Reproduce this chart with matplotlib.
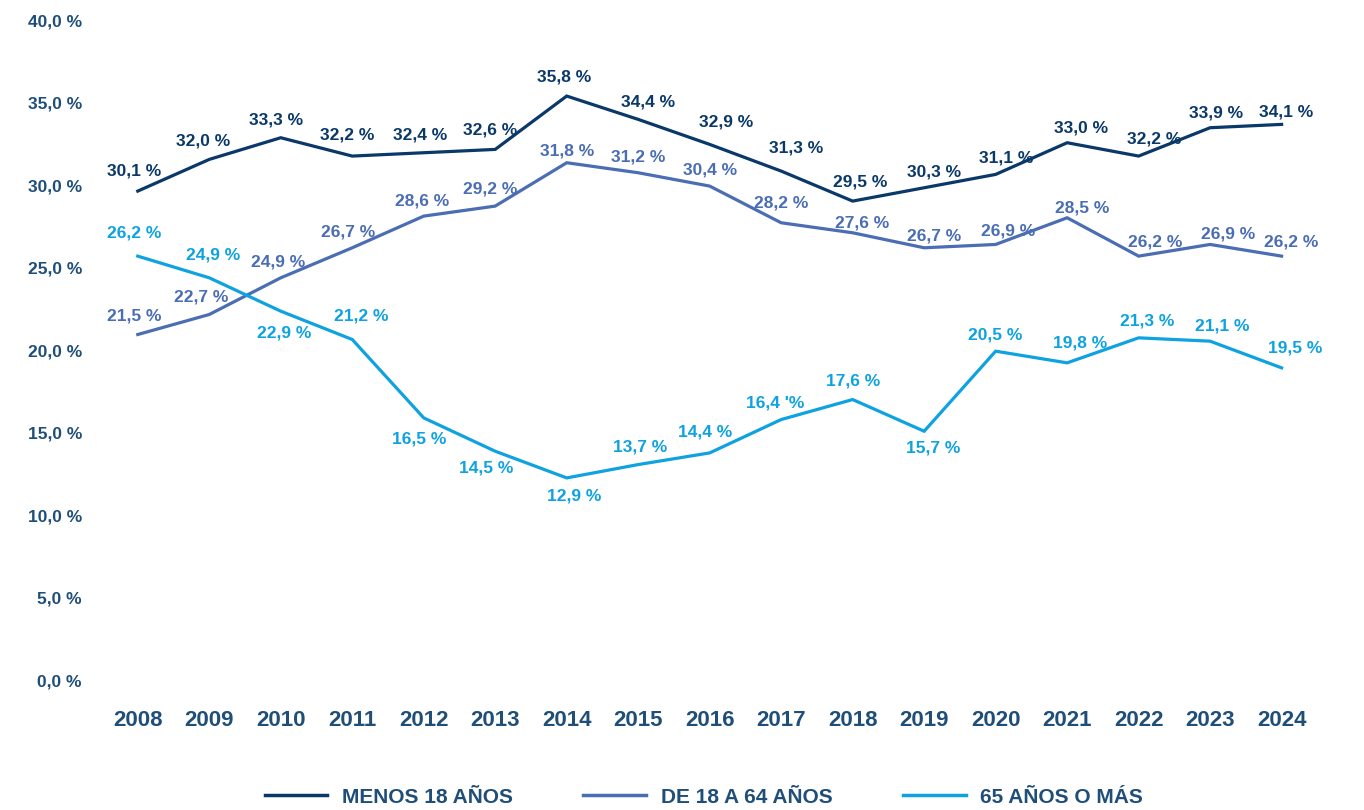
import numpy as np
import matplotlib.pyplot as plt

# =========================
# 1) Données (lues sur le graphique)
# =========================

annees = [2008, 2009, 2010, 2011, 2012, 2013, 2014, 2015, 2016,
          2017, 2018, 2019, 2020, 2021, 2022, 2023, 2024]

menos_18 = [30.1, 32.0, 33.3, 32.2, 32.4, 32.6, 35.8, 34.4, 32.9,
            31.3, 29.5, 30.3, 31.1, 33.0, 32.2, 33.9, 34.1]
de_18_a_64 = [21.5, 22.7, 24.9, 26.7, 28.6, 29.2, 31.8, 31.2, 30.4,
              28.2, 27.6, 26.7, 26.9, 28.5, 26.2, 26.9, 26.2]
mas_65 = [26.2, 24.9, 22.9, 21.2, 16.5, 14.5, 12.9, 13.7, 14.4,
          16.4, 17.6, 15.7, 20.5, 19.8, 21.3, 21.1, 19.5]

series_noms = ["MENOS 18 AÑOS", "DE 18 A 64 AÑOS", "65 AÑOS O MÁS"]
y_ticks = [0, 5, 10, 15, 20, 25, 30, 35, 40]

# =========================
# 2) Style
# =========================

plt.rcParams["font.family"] = ["Liberation Sans", "DejaVu Sans"]
plt.rcParams["font.weight"] = "bold"

couleurs = ["#0a3868", "#4a6db4", "#0ea2e0"]
couleur_texte = "#1f4e79"

# Décalage des étiquettes (pixels) : (dx, dy)
decal_menos = [(-4, 20), (-6, 18), (-5, 18), (-5, 21), (-4, 18), (-5, 19), (-3, 19), (10, 17), (16, 22),
               (15, 23), (8, 19), (10, 16), (11, 16), (14, 15), (16, 17), (6, 15), (5, 12)]
decal_18_64 = [(-4, 19), (-8, 17), (-3, 16), (-4, 16), (-2, 15), (-5, 17), (0, 12), (0, 16), (0, 16),
               (0, 20), (9, 10), (10, 12), (12, 13), (15, 10), (17, 14), (18, 10), (10, 14)]
decal_65 = [(-4, 23), (4, 23), (3, -22), (9, 24), (-5, -21), (-9, -17), (7, -18), (2, 18), (-5, 21),
            (-6, 17), (0, 19), (9, -17), (0, 16), (13, 20), (9, 17), (12, 15), (14, 20)]


def etiquette(v):
    return f"{v:.1f} %".replace(".", ",")


# =========================
# 3) Graphique
# =========================

fig = plt.figure(figsize=(13.64, 8.10), dpi=100)
ax = fig.add_axes([0.0748, 0.1444, 0.891, 0.8235])

toutes = [menos_18, de_18_a_64, mas_65]
decalages = [decal_menos, decal_18_64, decal_65]

for serie, nom, coul, dec in zip(toutes, series_noms, couleurs, decalages):
    ax.plot(annees, serie, color=coul, linewidth=2.3, label=nom, solid_joinstyle="miter")
    for x, v, (dx, dy) in zip(annees, serie, dec):
        txt = etiquette(v)
        if serie is mas_65 and x == 2017:
            txt = "16,4 '%"  # faute d'origine conservée
        ax.annotate(txt, (x, v), xytext=(dx, dy), textcoords="offset pixels",
                    ha="center", va="center", color=coul, fontsize=12.5, fontweight="bold")

ax.set_xlim(2007.5, 2024.5)
ax.set_ylim(0, 40)
ax.set_xticks(annees)
ax.set_xticklabels([str(a) for a in annees], fontsize=16, fontweight="bold", color=couleur_texte)
ax.set_yticks(y_ticks)
ax.set_yticklabels([etiquette(v) for v in y_ticks], fontsize=12.5, fontweight="bold", color=couleur_texte)
ax.tick_params(axis="both", length=0)
ax.tick_params(axis="x", pad=12)
ax.tick_params(axis="y", pad=14.5)

# Les étiquettes de l'axe Y sont légèrement au-dessus des valeurs
import matplotlib.transforms as mtransforms
for lab, v in zip(ax.get_yticklabels(), y_ticks):
    dy = (13 - 0.18 * v) / 100.0
    lab.set_transform(lab.get_transform() + mtransforms.ScaledTranslation(0, dy, fig.dpi_scale_trans))

for s in ax.spines.values():
    s.set_visible(False)

leg = fig.legend(loc="center", bbox_to_anchor=(0.516, 0.016), ncol=3, frameon=False,
                 fontsize=15, handlelength=3.0, handletextpad=0.7, columnspacing=3.4)
for t in leg.get_texts():
    t.set_color(couleur_texte)
    t.set_fontweight("bold")
for h in leg.get_lines():
    h.set_linewidth(2.5)

fig.savefig("out.png", dpi=100)
